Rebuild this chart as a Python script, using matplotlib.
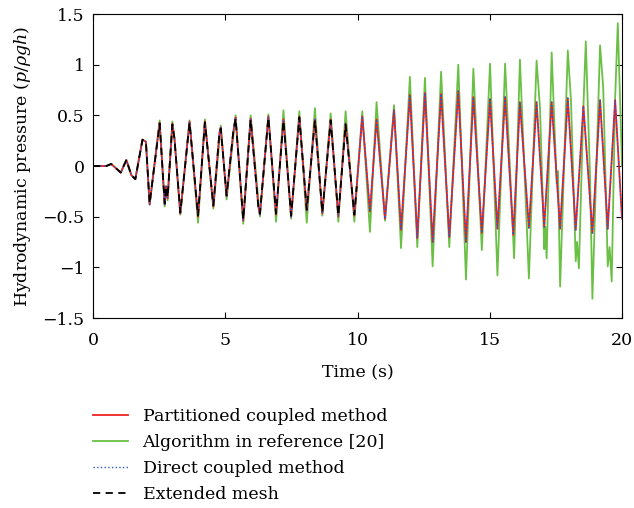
import matplotlib
matplotlib.use("Agg")
import matplotlib.pyplot as plt

plt.rcParams['font.family'] = ['DejaVu Serif']
plt.rcParams['mathtext.fontset'] = 'dejavuserif'

# peaks / troughs (time in s, p/rho g h)
part_t = [0, 0.5, 0.69, 1.05, 1.26, 1.45, 1.6, 1.87, 2.0, 2.14, 2.52, 2.71, 2.76, 2.82,
          3.0, 3.08, 3.30, 3.65, 3.97, 4.23, 4.55, 4.78, 4.83, 5.05, 5.3, 5.39, 5.68,
          5.96, 6.25, 6.31, 6.63, 6.92, 7.2, 7.49, 7.8, 8.08, 8.39, 8.67, 8.985, 9.275,
          9.55, 9.88, 10.18, 10.47, 10.72, 11.04, 11.38, 11.645, 11.98, 12.26, 12.55,
          12.84, 13.16, 13.47, 13.81, 14.10, 14.38, 14.70, 15.01, 15.29, 15.58, 15.89,
          16.14, 16.48, 16.77, 17.06, 17.34, 17.66, 17.95, 18.25, 18.54, 18.88, 19.17,
          19.46, 19.74, 20.0]
part_p = [0, 0, 0.02, -0.065, 0.06, -0.09, -0.13, 0.26, 0.24, -0.38, 0.43, -0.38, -0.2, -0.32,
          0.42, 0.27, -0.47, 0.44, -0.50, 0.44, -0.40, 0.33, 0.38, -0.30, 0.33, 0.48, -0.54,
          0.47, -0.40, -0.48, 0.49, -0.48, 0.46, -0.50, 0.49, -0.44, 0.46, -0.47, 0.46, -0.50,
          0.42, -0.49, 0.49, -0.45, 0.46, -0.52, 0.55, -0.63, 0.70, -0.71, 0.72,
          -0.75, 0.71, -0.70, 0.74, -0.75, 0.68, -0.66, 0.66, -0.62, 0.68, -0.68,
          0.63, -0.61, 0.63, -0.60, 0.63, -0.62, 0.67, -0.63, 0.59, -0.66, 0.65,
          -0.62, 0.65, -0.52]

direct_t = part_t
direct_p = part_p

ext_t = [0, 0.5, 0.69, 1.05, 1.26, 1.45, 1.6, 1.87, 2.0, 2.14, 2.52, 2.71, 2.76, 2.82,
         3.0, 3.08, 3.30, 3.65, 3.97, 4.23, 4.55, 4.78, 4.83, 5.05, 5.3, 5.39, 5.68,
         5.96, 6.25, 6.31, 6.63, 6.92, 7.2, 7.49, 7.8, 8.08, 8.39, 8.67, 8.985, 9.275,
         9.55, 9.88, 9.97]
ext_p = [0, 0, 0.02, -0.065, 0.06, -0.09, -0.13, 0.26, 0.24, -0.37, 0.42, -0.37, -0.2, -0.31,
         0.41, 0.27, -0.46, 0.43, -0.49, 0.43, -0.39, 0.33, 0.37, -0.29, 0.33, 0.47, -0.53,
         0.46, -0.40, -0.47, 0.48, -0.47, 0.45, -0.49, 0.48, -0.43, 0.45, -0.46, 0.45, -0.49,
         0.41, -0.48, -0.2]

ref_t = [0, 0.5, 0.69, 1.05, 1.26, 1.45, 1.6, 1.87, 2.0, 2.14, 2.52, 2.71, 2.76, 2.82,
         3.0, 3.08, 3.30, 3.65, 3.97, 4.23, 4.55, 4.83, 5.05, 5.39, 5.68, 5.96, 6.31,
         6.63, 6.92, 7.2, 7.49, 7.8, 8.08, 8.39, 8.67, 8.985, 9.275, 9.55, 9.88, 10.18,
         10.47, 10.72, 11.04, 11.38, 11.645, 11.98, 12.26, 12.55, 12.84, 13.16, 13.47,
         13.81, 14.10, 14.38, 14.70, 15.01, 15.29, 15.58, 15.92, 16.14, 16.48, 16.77,
         16.90, 17.06, 17.10, 17.15, 17.34, 17.53, 17.58, 17.66, 17.95, 18.07, 18.25,
         18.30, 18.37, 18.54, 18.63, 18.79, 18.88, 19.17, 19.29, 19.46, 19.53, 19.61,
         19.74, 19.84, 20.0]
ref_p = [0, 0, 0.02, -0.065, 0.06, -0.09, -0.13, 0.26, 0.24, -0.38, 0.45, -0.40, -0.2, -0.34,
         0.44, 0.27, -0.48, 0.45, -0.56, 0.46, -0.42, 0.40, -0.33, 0.50, -0.57, 0.50, -0.50,
         0.51, -0.55, 0.55, -0.52, 0.54, -0.56, 0.57, -0.49, 0.52, -0.55, 0.54, -0.55, 0.54,
         -0.65, 0.63, -0.54, 0.60, -0.81, 0.88, -0.80, 0.87, -0.99, 0.93, -0.80,
         1.00, -1.12, 0.96, -0.83, 1.01, -1.08, 1.01, -0.91, 1.05, -1.11, 1.04,
         0.57, -0.82, -0.60, -0.91, 1.12, -0.17, -0.05, -1.19, 1.14, 0.65, -0.94,
         -0.75, -1.01, 0.58, 1.23, -0.09, -1.31, 1.19, 0.77, -0.99, -0.80, -1.14,
         0.67, 1.41, 0.0]

labels = ['Partitioned coupled method', 'Algorithm in reference [20]',
          'Direct coupled method', 'Extended mesh']

fig = plt.figure(figsize=(6.34, 5.08), dpi=100)
ax = fig.add_axes([0.1467, 0.374, 0.8344, 0.5984])

l_ref, = ax.plot(ref_t, ref_p, color='#6abf45', lw=1.3, label=labels[1],
                 solid_joinstyle='round')
l_part, = ax.plot(part_t, part_p, color='#ee2222', lw=1.3, label=labels[0],
                  solid_joinstyle='round')
l_dir, = ax.plot(direct_t, direct_p, color='#3355cc', lw=1.0, ls=':', label=labels[2])
l_ext, = ax.plot(ext_t, ext_p, color='black', lw=1.3, ls=(0, (4, 3)), label=labels[3])

ax.set_xlim(0, 20)
ax.set_ylim(-1.5, 1.5)
ax.set_xticks([0, 5, 10, 15, 20])
ax.set_yticks([-1.5, -1, -0.5, 0, 0.5, 1, 1.5])
ax.set_yticklabels(['\u22121.5', '\u22121', '\u22120.5', '0', '0.5', '1', '1.5'])
ax.tick_params(direction='in', top=True, right=True, length=4.5, labelsize=12.5, pad=6)
ax.tick_params(axis='x', pad=10)
ax.set_xlabel('Time (s)', fontsize=12.5, labelpad=11)
ax.set_ylabel(r'Hydrodynamic pressure ($p/\rho g h$)', fontsize=12.5, labelpad=7)

fig.legend([l_part, l_ref, l_dir, l_ext], labels, loc='upper left',
           bbox_to_anchor=(0.1356, 0.21), frameon=False, fontsize=12.5,
           handlelength=2.0, handletextpad=0.86, labelspacing=0.52, borderaxespad=0)

fig.savefig('out.png', dpi=100)
